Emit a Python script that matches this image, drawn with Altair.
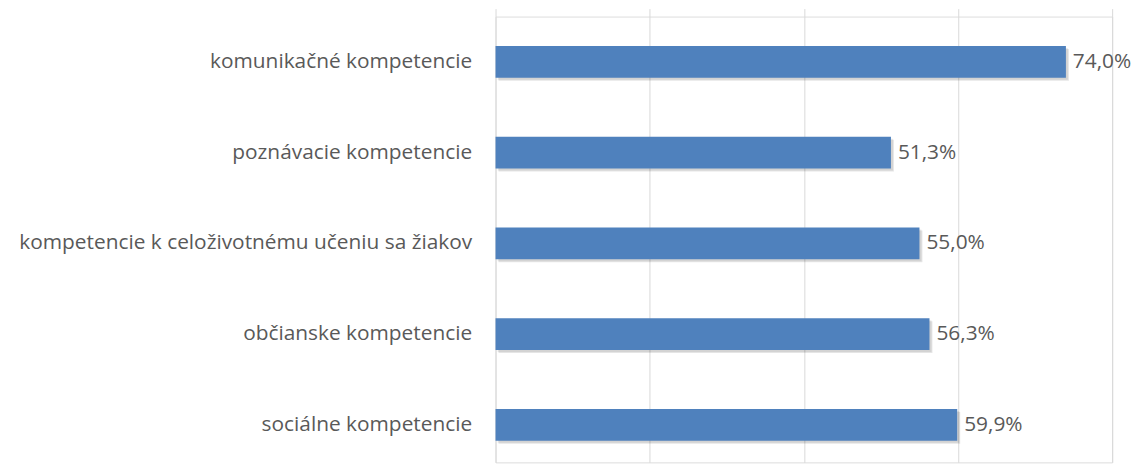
import altair as alt
import pandas as pd

categories = [
    "komunikačné kompetencie",
    "poznávacie kompetencie",
    "kompetencie k celoživotnému učeniu sa žiakov",
    "občianske kompetencie",
    "sociálne kompetencie",
]
values = [74.0, 51.3, 55.0, 56.3, 59.9]

df = pd.DataFrame({"kategoria": categories, "hodnota": values})

FONT = "Open Sans"
GRAY = "#595959"

y_enc = alt.Y(
    "kategoria:N",
    sort=categories,
    scale=alt.Scale(range=[0, 457], paddingInner=0, paddingOuter=0),
    axis=alt.Axis(
        title=None, ticks=False, domain=False, labelPadding=24,
        labelFont=FONT, labelFontSize=21, labelColor=GRAY, labelLimit=0,
        grid=False,
    ),
)
x_enc = alt.X(
    "hodnota:Q",
    scale=alt.Scale(domain=[0, 80], nice=False),
    axis=alt.Axis(
        title=None, values=[0, 20, 40, 60, 80], labels=False, ticks=False,
        domain=False, grid=True, gridColor="#d9d9d9", gridWidth=1,
    ),
)

base = alt.Chart(df)

shadow1 = base.mark_bar(size=32, color="#000000", opacity=0.10, xOffset=3, yOffset=3).encode(x=x_enc, y=y_enc)
shadow2 = base.mark_bar(size=32, color="#000000", opacity=0.08, xOffset=2, yOffset=2).encode(x=x_enc, y=y_enc)
bars = base.mark_bar(size=32, color="#4F81BD").encode(x=x_enc, y=y_enc)

labels = base.transform_calculate(
    lab="replace(format(datum.hodnota, '.1f'), '.', ',') + '%'"
).mark_text(
    align="left", baseline="middle", dx=7, font=FONT, fontSize=21, color=GRAY
).encode(x=x_enc, y=y_enc, text="lab:N")

chart = alt.layer(shadow1, shadow2, bars, labels).properties(
    width=621, height=449,
    autosize=alt.AutoSizeParams(type="none"),
    padding={"left": 491, "top": 7, "right": 22, "bottom": 0},
).configure_view(stroke=None).configure(background="white")

chart.save("out.html", embed_options={"renderer": "svg", "actions": False})
